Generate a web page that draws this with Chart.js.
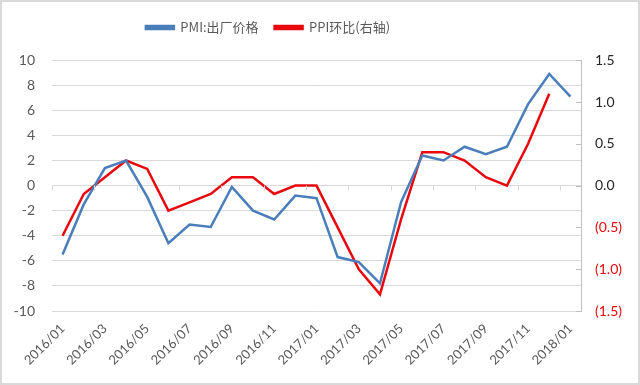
<!DOCTYPE html>
<html>
<head>
<meta charset="utf-8">
<script src="https://cdn.jsdelivr.net/npm/chart.js@4"></script>
<style>
  html, body { margin: 0; padding: 0; background: #fff; }
  #wrap { width: 636px; height: 381px; border: 2px solid #d9d9d9; }
</style>
</head>
<body>
<div id="wrap"><canvas id="myChart" width="636" height="381"></canvas></div>
<script>
const months = ['2016/01','2016/02','2016/03','2016/04','2016/05','2016/06','2016/07','2016/08','2016/09','2016/10','2016/11','2016/12',
  '2017/01','2017/02','2017/03','2017/04','2017/05','2017/06','2017/07','2017/08','2017/09','2017/10','2017/11','2017/12','2018/01']
const pmiPrice = [-5.5, -1.5, 1.4, 2.0, -0.9, -4.6, -3.1, -3.3, -0.1, -2.0, -2.7, -0.8,
  -1.0, -5.7, -6.1, -7.8, -1.3, 2.4, 2.0, 3.1, 2.5, 3.1, 6.5, 8.9, 7.1]
const ppiMom = [-0.6, -0.1, 0.1, 0.3, 0.2, -0.3, -0.2, -0.1, 0.1, 0.1, -0.1, 0.0,
  0.0, -0.5, -1.0, -1.3, -0.4, 0.4, 0.4, 0.3, 0.1, 0.0, 0.5, 1.1, null]

const grey = '#595959'
const blue = '#4a7ebb'
const red = '#e8090f'

// little tick marks on the zero line, like excel's horizontal axis
let zeroTicks = {
  id: 'zeroTicks',
  afterLayout(chart) {
    // legend in the reference sits left of centre
    chart.legend.left -= 52
    chart.legend.right -= 52
  },
  afterDatasetsDraw(chart) {
    let x = chart.scales.x, y = chart.scales.y
    let ctx = chart.ctx
    let half = (x.getPixelForValue(1) - x.getPixelForValue(0)) / 2
    let y0 = y.getPixelForValue(0)
    ctx.save()
    ctx.strokeStyle = '#d9d9d9'
    ctx.lineWidth = 1
    for (let i = 0; i < months.length; i += 2) {
      let px = Math.round(x.getPixelForValue(i) - half) + 0.5
      ctx.beginPath()
      ctx.moveTo(px, y0)
      ctx.lineTo(px, y0 + 5)
      ctx.stroke()
    }
    // right axis ticks point inward
    let r = chart.scales.y1
    let rx = r.left
    ctx.strokeStyle = '#bfbfbf'
    r.ticks.forEach(t => {
      let py = Math.round(r.getPixelForValue(t.value)) + 0.5
      ctx.beginPath()
      ctx.moveTo(rx - 5, py)
      ctx.lineTo(rx, py)
      ctx.stroke()
    })
    ctx.restore()
  }
}

let ctx = document.getElementById('myChart')
new Chart(ctx, {
  type: 'line',
  data: {
    labels: months,
    datasets: [{
      label: 'PMI:出厂价格',
      data: pmiPrice,
      borderColor: blue,
      backgroundColor: blue,
      borderWidth: 2.5,
      pointRadius: 0,
      tension: 0,
      yAxisID: 'y'
    }, {
      label: 'PPI环比(右轴)',
      data: ppiMom,
      borderColor: red,
      backgroundColor: red,
      borderWidth: 2.5,
      pointRadius: 0,
      tension: 0,
      yAxisID: 'y1'
    }]
  },
  options: {
    responsive: false,
    animation: false,
    layout: { padding: { top: 3, left: 0, right: 0, bottom: 0 } },
    plugins: {
      legend: {
        position: 'top',
        labels: {
          boxWidth: 28,
          boxHeight: 3,
          padding: 16,
          color: grey,
          font: { family: "'Noto Sans CJK SC'", size: 13 }
        }
      },
      // empty spacer between legend and plot
      subtitle: {
        display: true,
        text: ' ',
        weight: 500,
        font: { size: 1 },
        padding: { top: 0, bottom: 15 }
      },
      tooltip: { enabled: false }
    },
    scales: {
      x: {
        offset: true,
        grid: { display: false },
        border: { display: false },
        afterFit: s => { s.height = 72 },
        ticks: {
          autoSkip: false,
          maxRotation: 45,
          minRotation: 45,
          padding: 2,
          color: grey,
          font: { family: 'Lato', size: 13 },
          callback: function(val, i) { return i % 2 === 0 ? months[i] : '' }
        }
      },
      y: {
        position: 'left',
        min: -10,
        max: 10,
        afterFit: s => { s.width = 50 },
        grid: { color: '#d9d9d9', drawTicks: false },
        border: { display: false },
        ticks: {
          stepSize: 2,
          padding: 17,
          color: grey,
          font: { family: 'Lato', size: 14 }
        }
      },
      y1: {
        position: 'right',
        min: -1.5,
        max: 1.5,
        afterFit: s => { s.width = 57 },
        grid: { drawOnChartArea: false, drawTicks: false },
        border: { display: true, color: '#bfbfbf' },
        ticks: {
          stepSize: 0.5,
          padding: 14,
          font: { family: 'Lato', size: 14 },
          color: c => c.tick.value < 0 ? red : '#262626',
          callback: v => v < 0 ? '(' + Math.abs(v).toFixed(1) + ')' : v.toFixed(1)
        }
      }
    }
  },
  plugins: [zeroTicks]
})
</script>
</body>
</html>
